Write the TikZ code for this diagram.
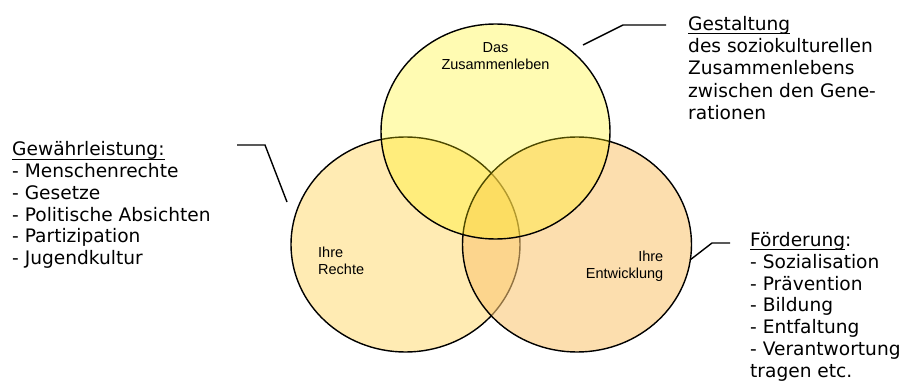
\documentclass[tikz,border=0pt]{standalone}
\usepackage{fontspec}
\setmainfont{DejaVu Sans}
\newfontfamily\lblfont{Liberation Sans}
\newcommand\ulin[1]{\setbox0\hbox{#1}\rlap{\rule[-3.4pt]{\wd0}{0.9pt}}\box0}
\definecolor{leftc}{RGB}{255,235,179}
\definecolor{rightc}{RGB}{250,198,115}
\tikzset{
  circ/.style={line width=1.4pt, draw=black},
  leader/.style={line width=1.4pt, draw=black},
  sidetext/.style={inner sep=0pt, anchor=base west, align=left, font=\fontsize{18.6}{21.7}\selectfont},
  lbl/.style={inner sep=0pt, font=\lblfont\fontsize{14.5}{17}\selectfont},
}
\begin{document}
\begin{tikzpicture}[x=1pt,y=-1pt]
\useasboundingbox (0,0) rectangle (906,385);
% circles
\path[circ, fill=leftc] (405.5,244.5) ellipse [x radius=114.5, y radius=107.5];
\path[fill=rightc, fill opacity=0.58] (577,244.5) ellipse [x radius=114.5, y radius=107.5];
\path[circ] (577,244.5) ellipse [x radius=114.5, y radius=107.5];
\path[fill=yellow, fill opacity=0.3] (495.5,131.5) ellipse [x radius=114.5, y radius=107.5];
\path[circ] (495.5,131.5) ellipse [x radius=114.5, y radius=107.5];
% circle labels (anchor = baseline of last line)
\node[lbl, anchor=base, align=center] (das) at (495.5,69.3) {Das\\Zusammenleben};
\node[lbl, anchor=base west, align=left] (rechte) at (318,274.5) {Ihre\\Rechte};
\node[lbl, anchor=base east, align=right] (entw) at (663.5,278.8) {Ihre\\Entwicklung};
% side texts (anchor = baseline of last line)
\node[sidetext] (gew) at (12,264.5) {\ulin{Gewährleistung:}\\- Menschenrechte\\- Gesetze\\- Politische Absichten\\- Partizipation\\- Jugendkultur};
\node[sidetext, font=\fontsize{18.6}{22.4}\selectfont] (gest) at (688,119.8) {\ulin{Gestaltung}\\des soziokulturellen\\Zusammenlebens\\zwischen den Gene-\\rationen};
\node[sidetext] (foerd) at (750,377) {\ulin{Förderung}:\\- Sozialisation\\- Prävention\\- Bildung\\- Entfaltung\\- Verantwortung\\tragen etc.};
% leaders
\coordinate (l1) at (237,145);
\coordinate (l2) at (265,145);
\coordinate (l3) at (287,202);
\draw[leader] (l1) -- (l2) -- (l3);
\coordinate (t1) at (583,45);
\coordinate (t2) at (623,25);
\coordinate (t3) at (666,25);
\draw[leader] (t1) -- (t2) -- (t3);
\coordinate (r1) at (690,260);
\coordinate (r2) at (712,243);
\coordinate (r3) at (730,243);
\draw[leader] (r1) -- (r2) -- (r3);
\end{tikzpicture}
\end{document}
